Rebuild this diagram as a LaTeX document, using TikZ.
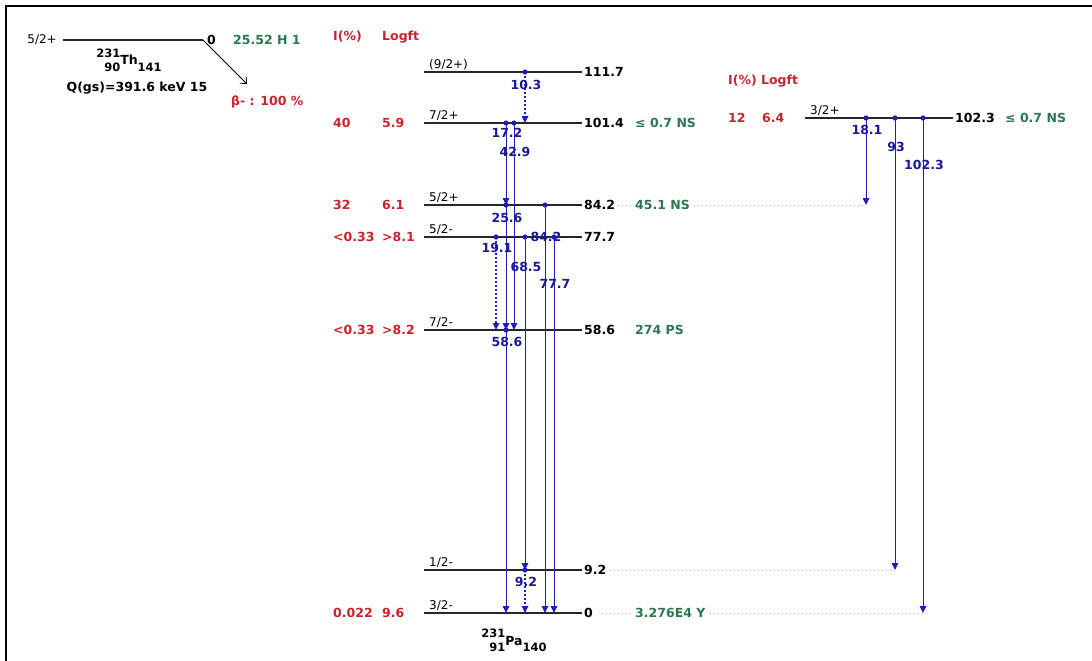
\documentclass[tikz,border=0pt]{standalone}
\usepackage{fontspec}
\setmainfont{DejaVu Sans}
\usetikzlibrary{arrows.meta,backgrounds,positioning}

\definecolor{lvred}{RGB}{200,35,45}
\definecolor{lvgreen}{RGB}{45,120,80}
\definecolor{lvblue}{RGB}{30,30,190}

% A over Z left of the symbol, N after it
\newcommand{\nucl}[4]{{\fontsize{11.5}{11.5}\selectfont\begin{tabular}[b]{@{}r@{}}#1\\[1.5pt]#2\end{tabular}}\raisebox{6pt}{#3}{\fontsize{11.5}{11.5}\selectfont#4}}

\tikzset{
  txt/.style={font=\fontsize{12.5}{14}\selectfont\bfseries, inner sep=1pt},
  lvl/.style={line width=1.1pt, black!85},
  spinlab/.style={font=\fontsize{12}{13}\selectfont, anchor=base west, inner sep=1pt},
  enlab/.style={txt, anchor=west, fill=white, inner sep=2pt},
  hllab/.style={enlab, text=lvgreen},
  ilab/.style={txt, anchor=west, text=lvred},
  glab/.style={txt, text=lvblue!80!black},
  gam/.style={lvblue, line width=0.9pt, -{Triangle[length=7pt,width=6.5pt]}},
  gamdot/.style={gam, line width=1.6pt, dash pattern=on 2pt off 2pt},
  ext/.style={gray!60, line width=0.8pt, dash pattern=on 1pt off 3pt},
}

\begin{document}
\begin{tikzpicture}[x=1pt, y=-1pt]
  \useasboundingbox (0,0) rectangle (1092,661);
  \draw[line width=1.2pt] (6,661) -- (6,6) -- (1092,6);

  % parent 231Th
  \coordinate (par-l) at (63,40);
  \coordinate (par) at (203,40);
  \draw[lvl] (par-l) -- (par);
  \node[spinlab, anchor=east] (par-s) at ([xshift=-5pt]par-l) {5/2+};
  \node[enlab] (par-e) at ([xshift=2pt]par) {0};
  \node[hllab] (par-hl) at (231,40) {25.52 H 1};
  \node[txt, anchor=base] (th) at (129,71) {\nucl{231}{90}{Th}{141}};
  \node[txt] (qgs) at (137,88) {Q(gs)=391.6 keV 15};
  \coordinate (bm) at (247,84);
  \draw[line width=0.8pt, -{Straight Barb[length=5pt,width=9pt]}] (par) -- (bm);
  \node[ilab] (bm-lab) at (230,102) {β- : 100 \%};

  % column heads
  \node[ilab] (hd-i) at (332,37) {I(\%)};
  \node[ilab] (hd-f) at (381,37) {Logft};
  \node[ilab] (hdR) at (727,81) {I(\%) Logft};

  % levels of 231Pa
  \foreach \nm/\y/\s/\e in {lv1117/72/{(9/2+)}/111.7, lv1014/123/{7/2+}/101.4,
      lv842/205/{5/2+}/84.2, lv777/237/{5/2-}/77.7, lv586/330/{7/2-}/58.6,
      lv92/570/{1/2-}/9.2, lv0/613/{3/2-}/0}{
    \coordinate (\nm-l) at (424,\y);
    \coordinate (\nm) at (582,\y);
    \draw[lvl] (\nm-l) -- (\nm);
    \node[spinlab] (\nm-s) at ([xshift=4pt,yshift=3.5pt]\nm-l) {\s};
    \node[enlab] (\nm-e) at (\nm) {\e};
  }
  \coordinate (lvR-l) at (805,118);
  \coordinate (lvR) at (953,118);
  \draw[lvl] (lvR-l) -- (lvR);
  \node[spinlab] (lvR-s) at ([xshift=4pt,yshift=3.5pt]lvR-l) {3/2+};
  \node[enlab] (lvR-e) at (lvR) {102.3};
  \node[hllab] (lvR-hl) at (1003,118) {≤ 0.7 NS};
  \node[ilab] (lvR-i) at (727,118) {12};
  \node[ilab] (lvR-f) at (761,118) {6.4};

  % half-lives
  \foreach \nm/\t in {lv1014/{≤ 0.7 NS}, lv842/{45.1 NS}, lv586/{274 PS}, lv0/{3.276E4 Y}}
    \node[hllab] (\nm-hl) at (633,0 |- \nm) {\t};

  % I(%) and log ft
  \foreach \nm/\i/\f in {lv1014/40/5.9, lv842/32/6.1, lv777/{<0.33}/{>8.1},
      lv586/{<0.33}/{>8.2}, lv0/0.022/9.6}{
    \node[ilab] (\nm-i) at (332,0 |- \nm) {\i};
    \node[ilab] (\nm-f) at (381,0 |- \nm) {\f};
  }

  % gammas: name/x/from/to/label/label drop/style
  \foreach \nm/\x/\a/\b/\t/\dy/\sty in {
      g103/525/lv1117/lv1014/10.3/13/gamdot,
      g172/506/lv1014/lv842/17.2/10/gam,
      g429/514/lv1014/lv586/42.9/29/gam,
      g256/506/lv842/lv586/25.6/13/gam,
      g842/545/lv842/lv0/84.2/32/gam,
      g191/496/lv777/lv586/19.1/11/gamdot,
      g685/525/lv777/lv92/68.5/30/gam,
      g777/554/lv777/lv0/77.7/47/gam,
      g586/506/lv586/lv0/58.6/12/gam,
      g92/525/lv92/lv0/9.2/12/gamdot,
      g181/866/lvR/lv842/18.1/12/gam,
      g93/895/lvR/lv92/93/29/gam,
      g1023/923/lvR/lv0/102.3/47/gam}{
    \coordinate (\nm-a) at (\x,0 |- \a);
    \coordinate (\nm-b) at (\x,0 |- \b);
    \draw[\sty] (\nm-a) -- (\nm-b);
    \fill[lvblue] (\nm-a) circle (2.6pt);
    \node[glab] (\nm-t) at ([xshift=1pt,yshift=-\dy pt]\nm-a) {\t};
  }

  % feeding of the far levels
  \begin{scope}[on background layer]
    \draw[ext] (lv842) -- (g181-b);
    \draw[ext] (lv92) -- (g93-b);
    \draw[ext] (lv0) -- (g1023-b);
  \end{scope}

  \node[txt, anchor=base] (pa) at (514,651) {\nucl{231}{91}{Pa}{140}};
\end{tikzpicture}
\end{document}
